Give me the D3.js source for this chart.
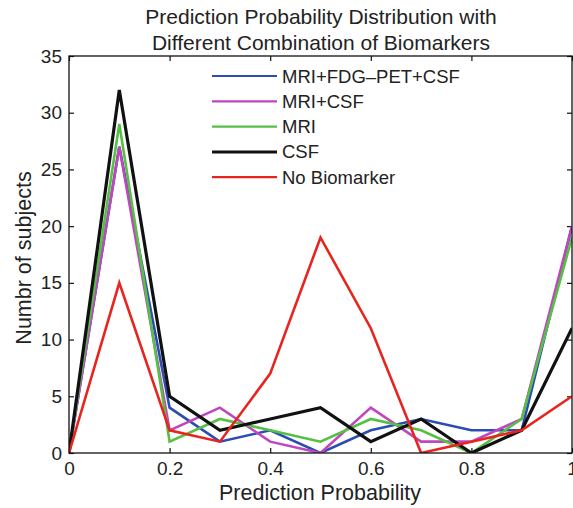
<!DOCTYPE html>
<html>
<head>
<meta charset="utf-8">
<script src="https://cdn.jsdelivr.net/npm/d3@7"></script>
<style>
  body { margin: 0; background: #fff; }
  text { font-family: "Liberation Sans", Arial, Helvetica, sans-serif; fill: #222; }
</style>
</head>
<body>
<div id="chart"></div>
<script>
// Prediction probability bins and subject counts per biomarker combination
var bins = [0, 0.1, 0.2, 0.3, 0.4, 0.5, 0.6, 0.7, 0.8, 0.9, 1.0];
var seriesNames = ["MRI+FDG\u2013PET+CSF", "MRI+CSF", "MRI", "CSF", "No Biomarker"];
var seriesColors = ["#2b4db3", "#c046c0", "#55c043", "#111111", "#e8241f"];
var petCsf   = [0, 27, 4, 1, 2, 0, 2, 3, 2, 2, 20];
var mriCsf   = [0, 27, 2, 4, 1, 0, 4, 1, 1, 3, 20];
var mriOnly  = [0, 29, 1, 3, 2, 1, 3, 2, 0, 3, 19];
var csfOnly  = [0, 32, 5, 2, 3, 4, 1, 3, 0, 2, 11];
var noMarker = [0, 15, 2, 1, 7, 19, 11, 0, 1, 2, 5];
var xTicks = [0, 0.2, 0.4, 0.6, 0.8, 1];
var yTicks = [0, 5, 10, 15, 20, 25, 30, 35];

var series = [petCsf, mriCsf, mriOnly, csfOnly, noMarker];

var width = 573, height = 508;
var margin = {top: 56, right: 1, bottom: 55, left: 69};

var svg = d3.select("#chart").append("svg")
    .attr("width", width)
    .attr("height", height);

var x = d3.scaleLinear().domain([0, 1]).range([margin.left, width - margin.right]);
var y = d3.scaleLinear().domain([0, 35]).range([height - margin.bottom, margin.top]);

// clip so lines stay inside the box
svg.append("clipPath").attr("id", "clip")
  .append("rect")
    .attr("x", margin.left).attr("y", margin.top)
    .attr("width", x(1) - x(0)).attr("height", y(0) - y(35));

// axes, ticks pointing inward like matlab
svg.append("g")
    .attr("transform", "translate(0," + y(0) + ")")
    .call(d3.axisBottom(x).tickValues(xTicks).tickSizeInner(-5).tickSizeOuter(0).tickPadding(9)
      .tickFormat(function(d) { return d === 0 || d === 1 ? d : d3.format(".1f")(d); }))
    .call(function(g) { g.select(".domain").remove(); });

svg.append("g")
    .attr("transform", "translate(0," + y(35) + ")")
    .call(d3.axisTop(x).tickValues(xTicks).tickSizeInner(-5).tickSizeOuter(0).tickFormat(""))
    .call(function(g) { g.select(".domain").remove(); });

svg.append("g")
    .attr("transform", "translate(" + x(0) + ",0)")
    .call(d3.axisLeft(y).tickValues(yTicks).tickSizeInner(-5).tickSizeOuter(0).tickPadding(7))
    .call(function(g) { g.select(".domain").remove(); });

svg.append("g")
    .attr("transform", "translate(" + x(1) + ",0)")
    .call(d3.axisRight(y).tickValues(yTicks).tickSizeInner(-5).tickSizeOuter(0).tickFormat(""))
    .call(function(g) { g.select(".domain").remove(); });

svg.selectAll(".tick line").attr("stroke", "#111").attr("stroke-width", 1.2);
svg.selectAll(".tick text").style("font-size", "19px").attr("fill", "#222");

// lines
var line = d3.line()
    .x(function(d, i) { return x(bins[i]); })
    .y(function(d) { return y(d); });

svg.append("g")
    .attr("clip-path", "url(#clip)")
    .selectAll("path")
    .data(series)
    .enter()
    .append("path")
    .attr("d", line)
    .attr("fill", "none")
    .attr("stroke", function(d, i) { return seriesColors[i]; })
    .attr("stroke-width", function(d, i) { return i === 3 ? 3.2 : 2.6; })
    .attr("stroke-linejoin", "miter");

// box
svg.append("rect")
    .attr("x", x(0)).attr("y", y(35))
    .attr("width", x(1) - x(0)).attr("height", y(0) - y(35))
    .attr("fill", "none")
    .attr("stroke", "#111")
    .attr("stroke-width", 1.3);

// title
svg.append("text")
    .attr("x", 321).attr("y", 24)
    .attr("text-anchor", "middle")
    .style("font-size", "21px")
    .text("Prediction Probability Distribution with");
svg.append("text")
    .attr("x", 321).attr("y", 50)
    .attr("text-anchor", "middle")
    .style("font-size", "21px")
    .text("Different Combination of Biomarkers");

// axis labels
svg.append("text")
    .attr("x", 320).attr("y", 500)
    .attr("text-anchor", "middle")
    .style("font-size", "21.5px")
    .text("Prediction Probability");

svg.append("text")
    .attr("transform", "translate(31," + 258 + ") rotate(-90)")
    .attr("text-anchor", "middle")
    .style("font-size", "21.5px")
    .text("Numbr of subjects");

// legend
var legend = svg.append("g")
    .attr("class", "legend")
    .attr("transform", "translate(212,76)");

var rows = legend.selectAll("g")
    .data(seriesNames)
    .enter()
    .append("g")
    .attr("transform", function(d, i) { return "translate(0," + (i * 25.3) + ")"; });

rows.append("line")
    .attr("x1", 0).attr("x2", 65)
    .attr("y1", 0).attr("y2", 0)
    .attr("stroke", function(d, i) { return seriesColors[i]; })
    .attr("stroke-width", function(d, i) { return i === 3 ? 3 : 2.2; });

rows.append("text")
    .attr("x", 70).attr("y", 6.5)
    .style("font-size", "18.5px")
    .text(function(d) { return d; });
</script>
</body>
</html>
